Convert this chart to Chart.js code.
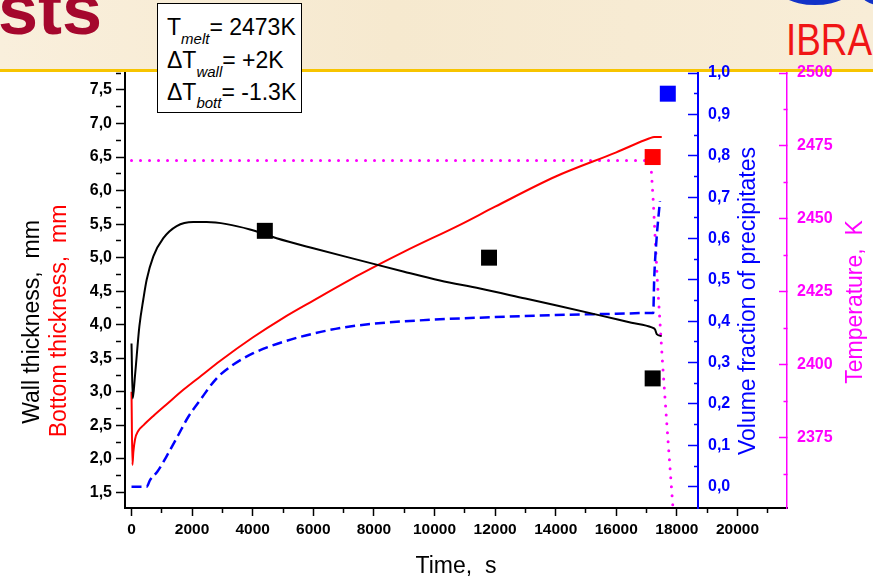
<!DOCTYPE html>
<html>
<head>
<meta charset="utf-8">
<script src="https://cdn.jsdelivr.net/npm/chart.js@4.4.0/dist/chart.umd.min.js"></script>
<style>
html,body{margin:0;padding:0;width:873px;height:580px;overflow:hidden;background:#fff;font-family:"Liberation Sans",Arial,sans-serif;}
#hdr{position:absolute;left:0;top:0;width:873px;height:69px;background:linear-gradient(90deg,#F9EFDC 0%,#F6E9CF 45%,#F8EDD7 100%);overflow:hidden;}
#rule{position:absolute;left:0;top:69px;width:873px;height:3px;background:#F7C400;}
#sts{position:absolute;left:-2px;top:-27px;font-size:72px;line-height:72px;font-weight:bold;color:#A5072D;white-space:nowrap;}
#ibra{position:absolute;left:786px;top:17px;font-size:45px;line-height:45px;color:#F01515;white-space:nowrap;transform:scaleX(0.82);transform-origin:0 0;}
#logo{position:absolute;left:772px;top:-44px;width:86px;height:49px;border-radius:50%;border:5px solid #1232C8;box-sizing:border-box;}
#logo2{position:absolute;left:861px;top:-20px;width:36px;height:25px;border-radius:50%;border:5px solid #1232C8;box-sizing:border-box;}
#cv{position:absolute;left:0;top:0;}
#box{position:absolute;left:157px;top:3px;width:145px;height:110px;box-sizing:border-box;border:1px solid #000;background:#fff;z-index:5;}
.ln{position:absolute;left:9px;font-size:23px;line-height:23px;color:#000;white-space:nowrap;}
.sb{font-size:15px;font-style:italic;vertical-align:-9px;line-height:0;}
</style>
</head>
<body>
<div id="hdr"><div id="sts">sts</div><div id="ibra">IBRA</div><div id="logo"></div><div id="logo2"></div></div>
<div id="rule"></div>
<canvas id="cv" width="873" height="580"></canvas>
<div id="box">
  <div class="ln" style="top:12px">T<span class="sb">melt</span>= 2473K</div>
  <div class="ln" style="top:45px">&Delta;T<span class="sb">wall</span>= +2K</div>
  <div class="ln" style="top:77px">&Delta;T<span class="sb" style="vertical-align:-8px">bott</span>= -1.3K</div>
</div>
<script>
// ---------- data ----------
const timeWall = [0, 40, 115, 260, 390, 500, 720, 1050, 1490, 2040, 2480, 3140, 3910, 4790, 6000, 7540, 9000, 10180, 11500, 13000, 14000, 15460, 16500, 17170, 17280, 17335, 17500];
const wallThickness = [3.72, 2.9, 3.24, 3.98, 4.38, 4.67, 5.02, 5.29, 5.47, 5.53, 5.53, 5.5, 5.42, 5.29, 5.14, 4.96, 4.79, 4.66, 4.54, 4.39, 4.29, 4.14, 4.03, 3.96, 3.93, 3.86, 3.83];

const timeBottom = [0, 30, 60, 115, 225, 390, 720, 1200, 1710, 2300, 2920, 4000, 5000, 6000, 7540, 9000, 10840, 12000, 14000, 16000, 17100, 17250, 17500];
const bottomThickness = [3.0, 1.91, 2.1, 2.29, 2.42, 2.5, 2.64, 2.83, 3.03, 3.24, 3.46, 3.81, 4.1, 4.36, 4.75, 5.09, 5.49, 5.76, 6.21, 6.57, 6.78, 6.8, 6.8];

const timeVf = [0, 500, 610, 850, 1215, 1545, 1875, 2260, 2810, 3300, 4000, 5000, 6000, 7000, 8000, 10000, 12000, 14000, 16000, 17150, 17220, 17250, 17330, 17440];
const volumeFraction = [0, 0, 0.016, 0.036, 0.081, 0.125, 0.169, 0.209, 0.262, 0.292, 0.322, 0.35, 0.37, 0.385, 0.394, 0.404, 0.41, 0.415, 0.418, 0.42, 0.42, 0.5, 0.6, 0.69];

const timeTemp = [0, 17135, 17220, 17360, 17530, 17700, 17870];
const temperature = [2470, 2470, 2456, 2428, 2400, 2375, 2351];

const wallMarkT = [4400, 11800, 17200];
const wallMarkV = [5.4, 5.0, 3.2];
const bottomMarkT = [17200];
const bottomMarkV = [6.5];
const vfMarkT = [17700];
const vfMarkV = [0.95];

// tick values (major ones get labels)
const xTicks = [0,1000,2000,3000,4000,5000,6000,7000,8000,9000,10000,11000,12000,13000,14000,15000,16000,17000,18000,19000,20000,21000];
const leftTicks = [1.5,1.75,2.0,2.25,2.5,2.75,3.0,3.25,3.5,3.75,4.0,4.25,4.5,4.75,5.0,5.25,5.5,5.75,6.0,6.25,6.5,6.75,7.0,7.25,7.5,7.75];
const vfTicks = [0,0.05,0.1,0.15,0.2,0.25,0.3,0.35,0.4,0.45,0.5,0.55,0.6,0.65,0.7,0.75,0.8,0.85,0.9,0.95,1.0];
const tempTicks = [2362.5,2375,2387.5,2400,2412.5,2425,2437.5,2450,2462.5,2475,2487.5,2500];
const vfAxisAtTime = 18706;

// ---------- helpers ----------
const FONT = '"Liberation Sans", Arial, sans-serif';
const xy = (xs, ys) => xs.map((x, i) => ({x: x, y: ys[i]}));
const isMajorX = v => Math.abs(v % 2000) < 1e-6;
const isMajorL = v => Math.abs(v * 2 - Math.round(v * 2)) < 1e-6;
const isMajorV = v => Math.abs(v * 10 - Math.round(v * 10)) < 1e-6;
const isMajorT = v => Math.abs(v % 25) < 1e-6;
const comma = v => v.toFixed(1).replace('.', ',');
const setTicks = arr => (s => { s.ticks = arr.map(v => ({value: v})); });

// the volume-fraction axis sits inside the plot at t = vfAxisAtTime
const shiftVfAxis = {
  id: 'shiftVfAxis',
  afterLayout(chart) {
    const s = chart.scales.yV;
    const px = Math.round(chart.scales.x.getPixelForValue(vfAxisAtTime));
    s.left = px; s.right = px + 50;
  }
};

function vText(ctx, text, x, y, color) {
  ctx.save();
  ctx.translate(x, y);
  ctx.rotate(-Math.PI / 2);
  ctx.fillStyle = color;
  ctx.fillText(text, 0, 0);
  ctx.restore();
}
const axisTitles = {
  id: 'axisTitles',
  afterDraw(chart) {
    const ctx = chart.ctx, a = chart.chartArea;
    ctx.save();
    ctx.font = '23px ' + FONT;
    ctx.textAlign = 'center';
    ctx.textBaseline = 'alphabetic';
    ctx.fillStyle = '#000';
    ctx.fillText('Time,  s', (a.left + a.right) / 2, 573);
    vText(ctx, 'Wall thickness,  mm', 38.5, 322, '#000000');
    vText(ctx, 'Bottom thickness,  mm', 66, 321, '#FF0000');
    vText(ctx, 'Volume fraction of precipitates', 755, 301, '#0000FF');
    vText(ctx, 'Temperature,  K', 862, 302, '#FF00FF');
    ctx.restore();
  }
};

new Chart(document.getElementById('cv'), {
  type: 'line',
  data: {
    datasets: [
      {type: 'scatter', data: xy(wallMarkT, wallMarkV), yAxisID: 'yL', pointStyle: 'rect', pointRadius: 11.3, pointBackgroundColor: '#000', pointBorderWidth: 0, showLine: false, order: 0},
      {type: 'scatter', data: xy(bottomMarkT, bottomMarkV), yAxisID: 'yL', pointStyle: 'rect', pointRadius: 11.3, pointBackgroundColor: '#FF0000', pointBorderWidth: 0, showLine: false, order: 0},
      {type: 'scatter', data: xy(vfMarkT, vfMarkV), yAxisID: 'yV', pointStyle: 'rect', pointRadius: 11.3, pointBackgroundColor: '#0000FF', pointBorderWidth: 0, showLine: false, order: 0},
      {data: xy(timeWall, wallThickness), yAxisID: 'yL', borderColor: '#000', borderWidth: 2, pointRadius: 0, cubicInterpolationMode: 'monotone', order: 2},
      {data: xy(timeBottom, bottomThickness), yAxisID: 'yL', borderColor: '#FF0000', borderWidth: 2, pointRadius: 0, cubicInterpolationMode: 'monotone', order: 2},
      {data: xy(timeVf, volumeFraction), yAxisID: 'yV', borderColor: '#0000FF', borderWidth: 2.5, borderDash: [10, 5], pointRadius: 0, cubicInterpolationMode: 'monotone', order: 2},
      {data: xy(timeTemp, temperature), yAxisID: 'yT', borderColor: '#FF00FF', borderWidth: 3, borderDash: [0, 9], borderCapStyle: 'round', pointRadius: 0, tension: 0, order: 2}
    ]
  },
  options: {
    responsive: false,
    animation: false,
    devicePixelRatio: 1,
    layout: {padding: {top: 73, left: 0, right: 0, bottom: 0}},
    plugins: {legend: {display: false}, tooltip: {enabled: false}},
    scales: {
      x: {
        type: 'linear', position: 'bottom', min: -215, max: 21634,
        afterBuildTicks: setTicks(xTicks),
        afterFit: s => { s.height = 72; },
        ticks: {autoSkip: false, maxRotation: 0, padding: 4, color: '#000', font: {family: FONT, size: 15.5, weight: 'bold'},
          callback: v => isMajorX(v) ? String(v) : ''},
        grid: {drawOnChartArea: false, tickLength: 8, tickWidth: 1.5, tickColor: '#000',
          tickBorderDash: c => (c.tick && !isMajorX(c.tick.value)) ? [4, 30] : []},
        border: {display: true, color: '#000', width: 2}
      },
      yL: {
        type: 'linear', position: 'left', min: 1.268, max: 7.753, weight: 0,
        afterBuildTicks: setTicks(leftTicks),
        afterFit: s => { s.width = 125; },
        ticks: {autoSkip: false, padding: 4, color: '#000', font: {family: FONT, size: 16, weight: 'bold'},
          callback: v => isMajorL(v) ? comma(v) : ''},
        grid: {drawOnChartArea: false, tickLength: 9, tickWidth: 1.5, tickColor: '#000',
          tickBorderDash: c => (c.tick && !isMajorL(c.tick.value)) ? [5, 30] : []},
        border: {display: true, color: '#000', width: 2}
      },
      yV: {
        type: 'linear', position: 'right', min: -0.0515, max: 1.0, weight: 0,
        afterBuildTicks: setTicks(vfTicks),
        afterFit: s => { s.width = 0; },
        ticks: {autoSkip: false, padding: 20, color: '#0000FF', font: {family: FONT, size: 16, weight: 'bold'},
          callback: v => isMajorV(v) ? comma(v) : ''},
        grid: {drawOnChartArea: false, tickLength: -10, tickWidth: 1.5, tickColor: '#0000FF',
          tickBorderDash: c => (c.tick && !isMajorV(c.tick.value)) ? [5, 30] : []},
        border: {display: true, color: '#0000FF', width: 2}
      },
      yT: {
        type: 'linear', position: 'right', min: 2350.9, max: 2500, weight: 1,
        afterBuildTicks: setTicks(tempTicks),
        afterFit: s => { s.width = 86; },
        ticks: {autoSkip: false, padding: 18, color: '#FF00FF', font: {family: FONT, size: 16, weight: 'bold'},
          callback: v => isMajorT(v) ? String(v) : ''},
        grid: {drawOnChartArea: false, tickLength: -8, tickWidth: 1.5, tickColor: '#FF00FF',
          tickBorderDash: c => (c.tick && !isMajorT(c.tick.value)) ? [4, 30] : []},
        border: {display: true, color: '#FF00FF', width: 1.5}
      }
    }
  },
  plugins: [shiftVfAxis, axisTitles]
});
</script>
</body>
</html>
